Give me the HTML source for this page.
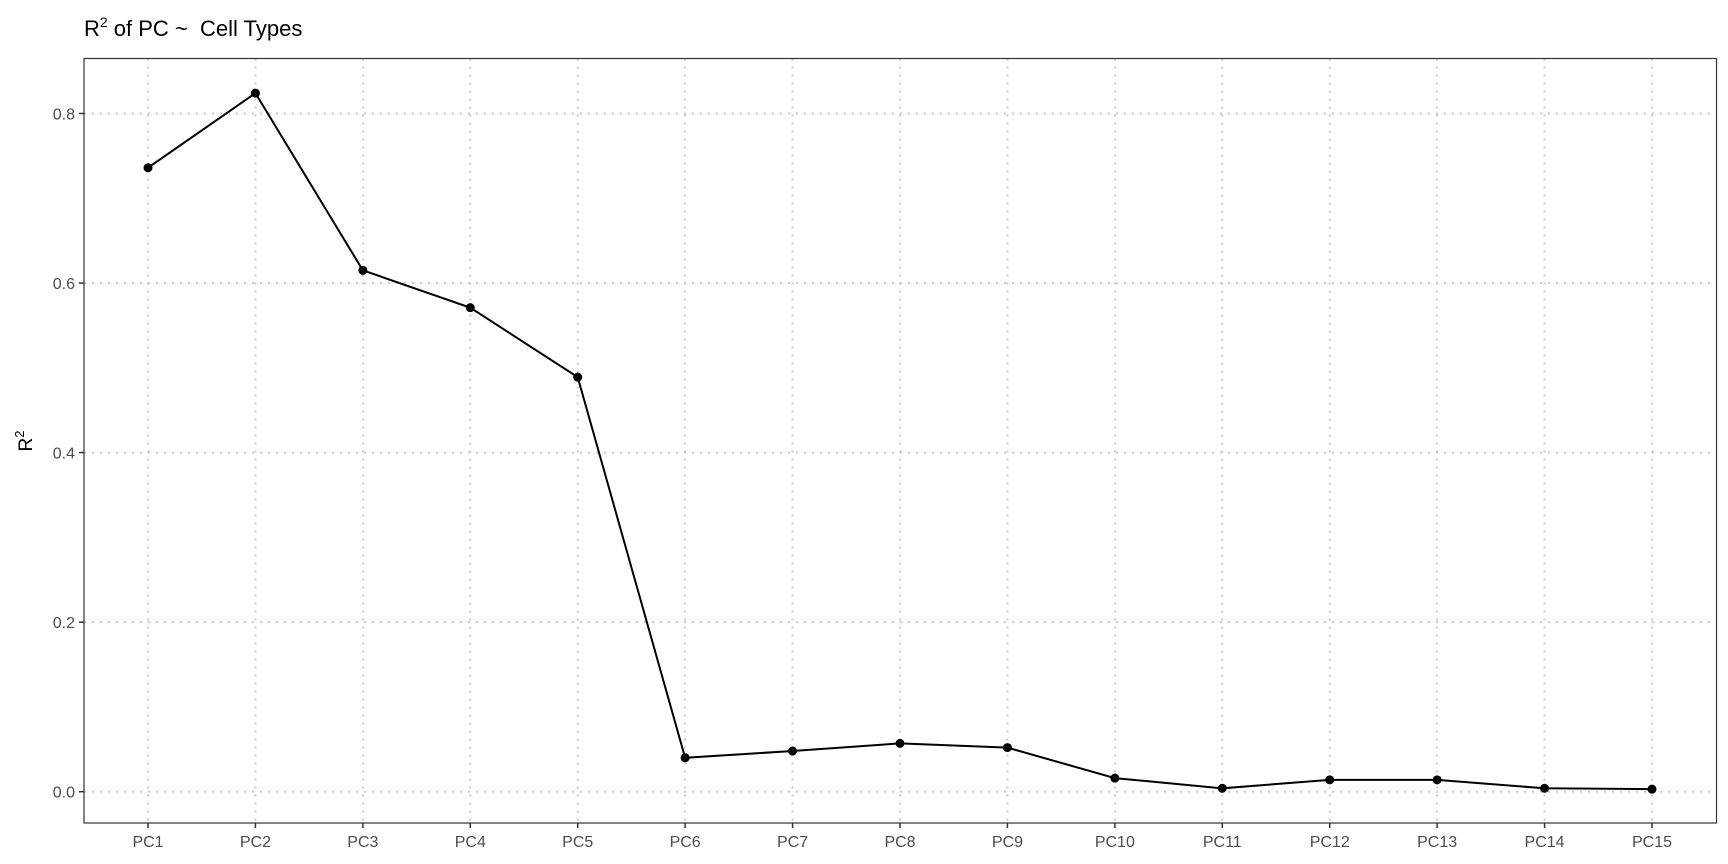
<!DOCTYPE html>
<html><head><meta charset="utf-8"><style>
body{margin:0;background:#fff;}
svg{display:block;font-family:"Liberation Sans",sans-serif;}
</style></head><body>
<svg id="chart" width="1728" height="864">
<text x="84" y="36" font-size="22" fill="#000">R<tspan dy="-9" font-size="14">2</tspan><tspan dy="9"> of PC ~&#160; Cell Types</tspan></text>
<text transform="translate(32,441) rotate(-90)" text-anchor="middle" font-size="19" fill="#000">R<tspan dy="-8" font-size="13">2</tspan></text>
<g id="grid"></g><g id="marks"></g><g id="axes"></g>
</svg>
<script>
const categories=["PC1","PC2","PC3","PC4","PC5","PC6","PC7","PC8","PC9","PC10","PC11","PC12","PC13","PC14","PC15"];
const r2Values=[0.736,0.824,0.615,0.571,0.489,0.040,0.048,0.057,0.052,0.016,0.004,0.014,0.014,0.004,0.003];
const yTicks=[0.0,0.2,0.4,0.6,0.8];
const yTickLabels=["0.0","0.2","0.4","0.6","0.8"];
const NS="http://www.w3.org/2000/svg";
const L=84,R=1716.5,T=58.5,B=823;
const xs=i=>148+i*(1652-148)/(categories.length-1);
const ys=v=>791.7-v/0.8*(791.7-113.5);
function mk(tag,attrs,parent){const e=document.createElementNS(NS,tag);for(const k in attrs)e.setAttribute(k,attrs[k]);document.getElementById(parent).appendChild(e);return e;}
yTicks.forEach((v,i)=>{
 const g=mk('line',{x1:L,x2:R,y1:ys(v),y2:ys(v),stroke:'#c8c8c8','stroke-width':2,'stroke-dasharray':'2 6'},'grid');
 
 
 const t=mk('line',{x1:L-5,x2:L,y1:ys(v),y2:ys(v),stroke:'#333','stroke-width':1.5},'axes');
 
 
 const tx=mk('text',{x:L-9,y:ys(v)+6,'text-anchor':'end','font-size':16,fill:'#4d4d4d'},'axes');
 tx.textContent=yTickLabels[i];
 
 
});
categories.forEach((c,i)=>{
 const g=mk('line',{x1:xs(i),x2:xs(i),y1:T,y2:B,stroke:'#c8c8c8','stroke-width':2,'stroke-dasharray':'2 6'},'grid');
 
 
 const t=mk('line',{x1:xs(i),x2:xs(i),y1:B,y2:B+5,stroke:'#333','stroke-width':1.5},'axes');
 
 
 const tx=mk('text',{x:xs(i),y:B+24,'text-anchor':'middle','font-size':16,fill:'#4d4d4d'},'axes');
 tx.textContent=c;
 
 
});
const border=mk('rect',{x:L,y:T,width:R-L,height:B-T,fill:'none',stroke:'#333','stroke-width':1.2},'axes');


const line=mk('polyline',{points:r2Values.map((v,i)=>xs(i)+','+ys(v)).join(' '),fill:'none',stroke:'#000','stroke-width':2},'marks');


r2Values.forEach((v,i)=>{
 const p=mk('circle',{cx:xs(i),cy:ys(v),r:4.5,fill:'#000'},'marks');
 
 
});
</script>
</body></html>
